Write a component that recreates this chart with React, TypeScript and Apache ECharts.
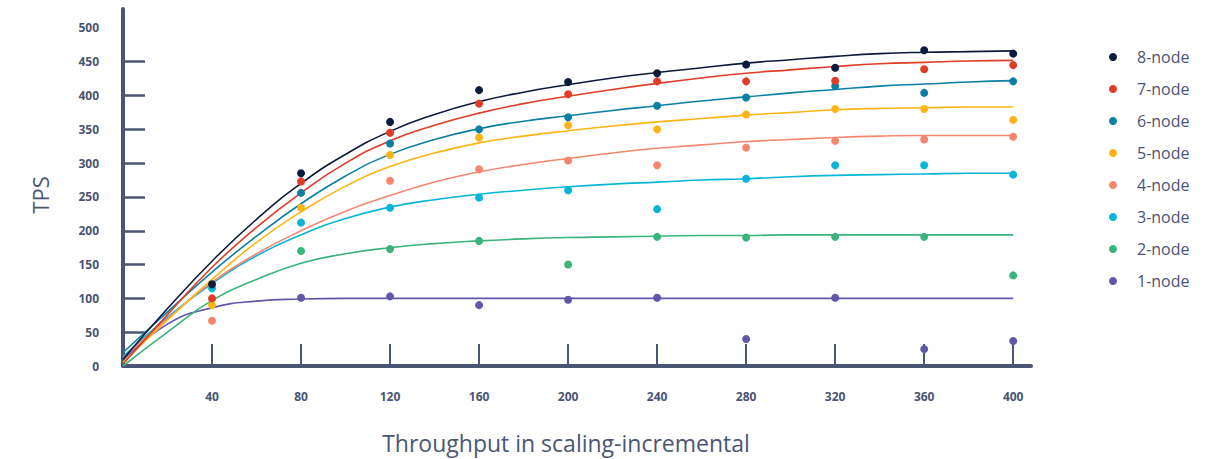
import React, { useEffect, useRef } from "react";
import * as echarts from "echarts";

// x positions of the measured points
const xCategories = [40, 80, 120, 160, 200, 240, 280, 320, 360, 400];
const xTickLabels = [40, 80, 120, 160, 200, 240, 280, 320, 360, 400];
const yTickLabels = [0, 50, 100, 150, 200, 250, 300, 350, 400, 450, 500];
const yTickMarks = [50, 100, 150, 200, 250, 300, 350, 400, 450];

const seriesNames = ["8-node", "7-node", "6-node", "5-node", "4-node", "3-node", "2-node", "1-node"];
const seriesColors = ["#0c1a3d", "#e03c26", "#0b7fa3", "#fdb515", "#f5876f", "#06b6d8", "#3bb47c", "#5f57a9"];

// measured TPS (dots)
const tps8 = [121, 285, 361, 408, 420, 433, 446, 441, 467, 462];
const tps7 = [100, 273, 345, 388, 402, 421, 421, 422, 439, 445];
const tps6 = [null, 256, 329, 350, 368, 385, 397, 414, 404, 421];
const tps5 = [90, 234, 312, 338, 356, 350, 372, 380, 380, 364];
const tps4 = [67, null, 274, 291, 304, 297, 323, 333, 335, 339];
const tps3 = [115, 212, 234, 249, 260, 232, 277, 297, 297, 283];
const tps2 = [null, 170, 173, 185, 150, 191, 190, 191, 191, 134];
const tps1 = [null, 101, 103, 90, 98, 101, 40, 101, 25, 37];

// trend curves
const curveX = [0, 20, 40, 60, 80, 100, 120, 140, 160, 180, 200, 220, 240, 260, 280, 300, 320, 340, 360, 380, 400];
const fit8 = [10, 85, 155, 217, 270, 313, 347, 372, 391, 405, 416, 426, 434, 441, 448, 453, 458, 462, 464, 465, 466];
const fit7 = [3, 76, 146, 205, 256, 300, 333, 356, 374, 388, 399, 409, 418, 426, 433, 438, 443, 447, 449, 451, 452];
const fit6 = [20, 80, 139, 192, 240, 281, 313, 335, 351, 362, 370, 378, 385, 392, 398, 404, 409, 414, 417, 420, 422];
const fit5 = [5, 68, 128, 183, 228, 266, 295, 315, 330, 340, 348, 355, 361, 366, 371, 375, 379, 381, 382, 383, 383];
const fit4 = [12, 70, 124, 166, 200, 229, 252, 272, 287, 298, 307, 315, 322, 327, 332, 335, 338, 340, 341, 341, 341];
const fit3 = [14, 72, 122, 163, 194, 218, 235, 246, 254, 260, 265, 269, 272, 275, 277, 280, 282, 283, 284, 285, 285];
const fit2 = [0, 50, 97, 128, 152, 166, 175, 181, 185, 188, 190, 191, 192, 193, 193, 194, 194, 194, 194, 194, 194];
const fit1 = [8, 62, 86, 96, 99, 100, 100, 100, 100, 100, 100, 100, 100, 100, 100, 100, 100, 100, 100, 100, 100];

const scatterValues = [tps8, tps7, tps6, tps5, tps4, tps3, tps2, tps1];
const curveValues = [fit8, fit7, fit6, fit5, fit4, fit3, fit2, fit1];

const AXIS_COLOR = "#4b5675";
const TEXT_COLOR = "#4a5474";
const FONT = "'Open Sans', 'Noto Sans', sans-serif";

export default function App() {
  const ref = useRef<HTMLDivElement>(null);

  useEffect(() => {
    if (!ref.current) return;
    const chart = echarts.init(ref.current, undefined, { renderer: "svg" });

    const lineSeries: any[] = [];
    const dotSeries: any[] = [];
    for (let i = seriesNames.length - 1; i >= 0; i--) {
      const color = seriesColors[i];
      lineSeries.push({
        type: "line",
        name: seriesNames[i],
        data: curveX.map((x, j) => [x, curveValues[i][j]]),
        smooth: 0.5,
        symbol: "none",
        showSymbol: false,
        lineStyle: { color, width: 1.6 },
        itemStyle: { color },
        z: 2,
        silent: true,
      });
      const pts: any[] = [];
      xCategories.forEach((x, j) => {
        const v = scatterValues[i][j];
        if (v !== null && v !== undefined) pts.push([x, v]);
      });
      dotSeries.push({
        type: "scatter",
        name: seriesNames[i],
        data: pts,
        symbol: "circle",
        symbolSize: 8,
        itemStyle: { color, opacity: 1 },
        z: 3,
        silent: true,
      });
    }

    chart.setOption({
      animation: false,
      textStyle: { fontFamily: FONT },
      grid: {
        left: 123,
        right: 189,
        top: 9,
        bottom: 93,
        containLabel: false,
        outerBoundsMode: "none",
      },
      xAxis: {
        type: "value",
        min: 0,
        max: 408,
        splitLine: { show: false },
        axisLine: { show: true, onZero: false, lineStyle: { color: AXIS_COLOR, width: 4 } },
        axisTick: {
          show: true,
          inside: true,
          length: 22,
          customValues: xTickLabels,
          lineStyle: { color: AXIS_COLOR, width: 2 },
        },
        axisLabel: {
          customValues: xTickLabels,
          margin: 24,
          color: TEXT_COLOR,
          fontSize: 12,
          fontWeight: "bold",
          fontFamily: FONT,
        },
      },
      yAxis: {
        type: "value",
        min: 0,
        max: 528,
        splitLine: { show: false },
        axisLine: { show: true, onZero: false, lineStyle: { color: AXIS_COLOR, width: 4 } },
        axisTick: {
          show: true,
          inside: true,
          length: 22,
          customValues: yTickMarks,
          lineStyle: { color: AXIS_COLOR, width: 2.5 },
        },
        axisLabel: {
          customValues: yTickLabels,
          margin: 24,
          color: TEXT_COLOR,
          fontSize: 12,
          fontWeight: "bold",
          fontFamily: FONT,
        },
      },
      legend: {
        orient: "vertical",
        left: 1109,
        top: 49,
        padding: 0,
        icon: "circle",
        itemWidth: 8,
        itemHeight: 8,
        itemGap: 16,
        data: seriesNames,
        selectedMode: false,
        textStyle: { color: TEXT_COLOR, fontSize: 16, fontFamily: FONT, padding: [0, 0, 0, 15] },
      },
      graphic: [
        {
          type: "text",
          x: 40,
          y: 195,
          rotation: Math.PI / 2,
          style: {
            text: "TPS",
            fill: AXIS_COLOR,
            font: `22px ${FONT}`,
            align: "center",
            verticalAlign: "middle",
          },
        },
        {
          type: "text",
          x: 566,
          y: 443,
          style: {
            text: "Throughput in scaling-incremental",
            fill: AXIS_COLOR,
            font: `23px ${FONT}`,
            align: "center",
            verticalAlign: "middle",
          },
        },
      ],
      series: [...lineSeries, ...dotSeries],
    });

    return () => chart.dispose();
  }, []);

  return (
    <div
      ref={ref}
      style={{ position: "fixed", left: 0, top: 0, width: 1220, height: 459, background: "#ffffff" }}
    />
  );
}
